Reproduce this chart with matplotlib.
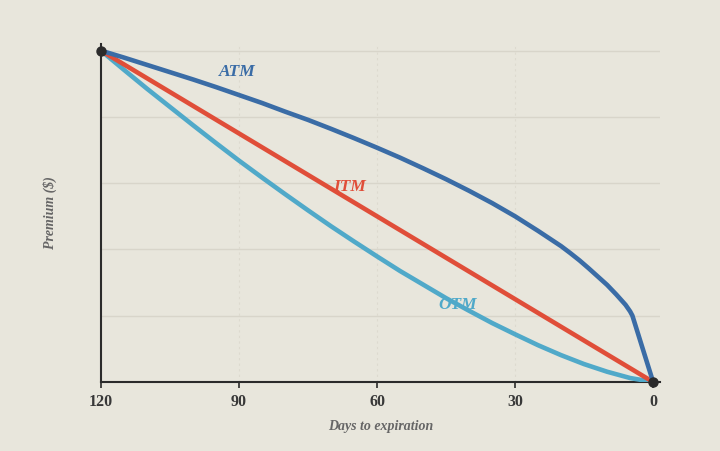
import matplotlib
matplotlib.use("Agg")
import matplotlib.pyplot as plt

# --- Data ---
ATM_DAYS = [120, 115, 110, 105, 100, 95, 90, 85, 80, 75, 70, 65, 60,
            55, 50, 45, 40, 35, 30, 25, 20, 18, 16, 14, 12, 10, 8, 6, 5,
            4.5, 0]
ATM = [1.0, 0.979, 0.957, 0.935, 0.913, 0.890, 0.866, 0.842, 0.816, 0.791,
       0.764, 0.736, 0.707, 0.677, 0.645, 0.612, 0.577, 0.540, 0.500, 0.456,
       0.410, 0.389, 0.367, 0.343, 0.318, 0.293, 0.264, 0.233, 0.213,
       0.200, 0.0]
ITM_DAYS = [120, 0]
ITM = [1.0, 0.0]
OTM_DAYS = [120, 115, 110, 105, 100, 95, 90, 85, 80, 75, 70, 65, 60,
            55, 50, 45, 40, 35, 30, 25, 20, 15, 10, 5, 0]
OTM = [1.0, 0.942, 0.885, 0.830, 0.775, 0.721, 0.668, 0.617, 0.567, 0.518,
       0.470, 0.424, 0.379, 0.335, 0.294, 0.253, 0.215, 0.178, 0.144, 0.111,
       0.081, 0.054, 0.031, 0.012, 0.0]
X_TICKS = [120, 90, 60, 30, 0]
Y_GRID = [0.2, 0.4, 0.6, 0.8, 1.0]

BG = "#e8e6dc"
C_ATM = "#3a6ca6"
C_ITM = "#e04e39"
C_OTM = "#50a9c9"
INK = "#2b2b2b"
FONT = "Liberation Serif"

fig = plt.figure(figsize=(7.2, 4.51), dpi=100, facecolor=BG)
ax = fig.add_axes([0.1403, 0.153, 0.7764, 0.7494], facecolor=BG)

for y in Y_GRID:
    ax.axhline(y, color="#d8d5ca", lw=1, zorder=0)
for x in X_TICKS[1:-1]:
    ax.axvline(x, color="#dddacf", lw=0.8, ls=(0, (2, 3)), zorder=0)

ax.plot(OTM_DAYS, OTM, color=C_OTM, lw=3.3, solid_capstyle="round",
        solid_joinstyle="round", zorder=3)
ax.plot(ITM_DAYS, ITM, color=C_ITM, lw=3.3, solid_capstyle="round", zorder=3)
ax.plot(ATM_DAYS, ATM, color=C_ATM, lw=3.3, solid_capstyle="round",
        solid_joinstyle="round", zorder=4)
ax.plot([120, 0], [1.0, 0.0], "o", color=INK, ms=6.5, zorder=6, clip_on=False)

ax.text(90.4, 0.935, "ATM", color=C_ATM, fontsize=12.5, style="italic",
        fontweight="bold", family=FONT, ha="center", va="center")
ax.text(66, 0.587, "ITM", color=C_ITM, fontsize=12.5, style="italic",
        fontweight="bold", family=FONT, ha="center", va="center")
ax.text(42.4, 0.232, "OTM", color=C_OTM, fontsize=12.5, style="italic",
        fontweight="bold", family=FONT, ha="center", va="center")

ax.set_xlim(120, -1.5)
ax.set_ylim(0, 1.02)
ax.set_xticks(X_TICKS)
ax.set_xticklabels([str(t) for t in X_TICKS], family=FONT, fontsize=11.5,
                   fontweight="bold", color="#383838")
ax.set_yticks([])
ax.tick_params(axis="x", length=4, width=1.2, color=INK, pad=5)

for s in ["top", "right"]:
    ax.spines[s].set_visible(False)
for s in ["left", "bottom"]:
    ax.spines[s].set_color(INK)
    ax.spines[s].set_linewidth(1.5)

ax.set_xlabel("Days to expiration", family=FONT, fontsize=10, style="italic",
              fontweight="bold", color="#666666", labelpad=7)
ax.set_ylabel("Premium ($)", family=FONT, fontsize=10, style="italic",
              fontweight="bold", color="#666666", labelpad=32)

fig.savefig("out.png", dpi=100, facecolor=BG)
